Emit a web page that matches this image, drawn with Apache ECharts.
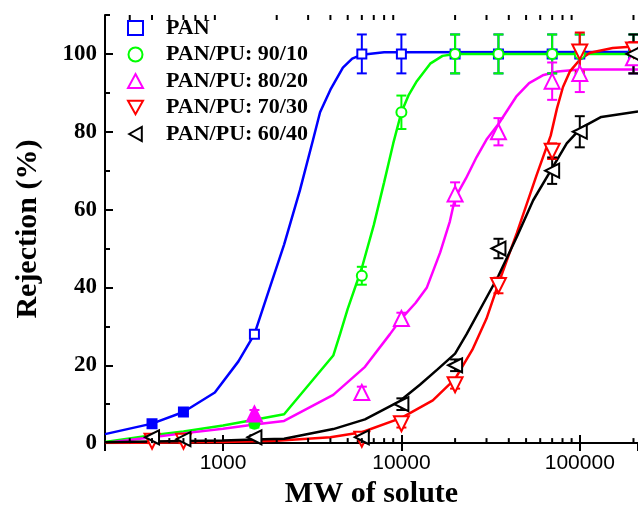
<!DOCTYPE html>
<html>

<head>
    <meta charset="utf-8">
    <script src="https://cdn.jsdelivr.net/npm/echarts@6/dist/echarts.min.js"></script>
</head>

<body style="margin:0">
    <div id="main" style="width:638px;height:514px;"></div>

    <script>
        // measured points (MW, rejection %, error)
        var panX = [400, 600, 1500, 6000, 10000, 20000, 35000, 70000, 100000, 200000];
        var panY = [5, 8, 28, 100, 100, 100, 100, 100, 100, 100];
        var panErr = [0.5, 0.5, 1, 5, 5, 5, 5, 5, 5, 5];

        var pu9010X = [1500, 6000, 10000, 20000, 35000, 70000, 100000, 200000];
        var pu9010Y = [5, 43, 85, 100, 100, 100, 100, 100];
        var pu9010Err = [1, 2.3, 4.3, 5, 5, 5, 5, 5];

        var pu8020X = [1500, 6000, 10000, 20000, 35000, 70000, 100000, 200000];
        var pu8020Y = [7.5, 13, 32, 64, 80, 93, 95, 99];
        var pu8020Err = [1, 1.5, 1.5, 3, 3.5, 4.8, 4.8, 4];

        var pu7030X = [400, 600, 6000, 10000, 20000, 35000, 70000, 100000, 200000];
        var pu7030Y = [0.5, 0.5, 1, 5, 15, 40.5, 75, 100.5, 101];
        var pu7030Err = [0.5, 0.5, 0.5, 1, 1, 2, 2, 5, 2];

        var pu6040X = [400, 600, 1500, 6000, 10000, 20000, 35000, 70000, 100000, 200000];
        var pu6040Y = [1.5, 1, 1.5, 1.5, 10, 20, 50, 70, 80, 100];
        var pu6040Err = [0.5, 0.5, 0.5, 1, 1.5, 1.5, 2.5, 3.4, 4, 5];

        // fitted curves
        var panFitX = [218, 400, 600, 900, 1220, 1500, 1800, 2200, 2700, 3200, 3500, 4000, 4700, 5300, 6000, 8000, 212000];
        var panFitY = [2.3, 5, 8, 13, 21, 28, 39, 51, 65, 78, 85, 90.8, 96.5, 98.8, 99.8, 100.4, 100.5];

        var pu9010FitX = [218, 400, 600, 1000, 1500, 2200, 4150, 4530, 5000, 6000, 7000, 8000, 9000, 10000, 11000, 12200, 14500, 17000, 20000, 212000];
        var pu9010FitY = [0.3, 2, 3, 4.5, 6, 7.4, 22.5, 28, 34.5, 45, 56, 67, 77, 85, 89.5, 93, 97.5, 99.5, 100, 100];

        var pu8020FitX = [218, 400, 600, 1000, 1500, 2200, 4150, 6250, 8630, 10000, 12000, 13900, 16500, 18700, 20000, 23000, 26400, 30000, 35000, 44000, 52000, 62000, 75000, 100000, 212000];
        var pu8020FitY = [0, 1.5, 2.5, 3.7, 4.8, 5.7, 12.4, 19.6, 28, 32, 36, 40, 49, 57, 63, 68, 73.5, 78, 82, 89, 92.5, 94.5, 95.5, 96, 96];

        var pu7030FitX = [218, 1000, 2000, 4000, 6000, 10000, 15000, 20000, 25000, 30000, 35000, 44400, 57400, 68700, 74500, 80500, 88000, 100000, 114000, 153000, 212000];
        var pu7030FitY = [0, 0.3, 0.6, 1.5, 2.8, 6.5, 11, 16.5, 24, 32, 41, 54, 69, 79, 86, 91.5, 95.5, 98.5, 100.3, 101.5, 102];

        var pu6040FitX = [218, 400, 1000, 1500, 2200, 4150, 6250, 9800, 12700, 16000, 20000, 23200, 35000, 44400, 54800, 68700, 84500, 101700, 132000, 212000];
        var pu6040FitY = [0.2, 0.4, 0.7, 0.9, 1.1, 3.6, 6.1, 10.8, 15, 19, 23, 28, 43, 53, 62.4, 70, 77, 81, 83.8, 85.2];

        var minorTicksX = [300, 400, 500, 600, 700, 800, 900, 2000, 3000, 4000, 5000, 6000, 7000, 8000, 9000,
            20000, 30000, 40000, 50000, 60000, 70000, 80000, 90000, 200000];

        var serif = "'Liberation Serif', 'Times New Roman', serif";

        var groups = [
            { name: 'PAN', x: panX, y: panY, err: panErr, fx: panFitX, fy: panFitY, color: '#0000ff', symbol: 'rect', size: 9, rotate: 0, filled: [0, 1], icon: 'rect' },
            { name: 'PAN/PU: 90/10', x: pu9010X, y: pu9010Y, err: pu9010Err, fx: pu9010FitX, fy: pu9010FitY, color: '#00ff00', symbol: 'circle', size: 10, rotate: 0, filled: [0], icon: 'circle' },
            { name: 'PAN/PU: 80/20', x: pu8020X, y: pu8020Y, err: pu8020Err, fx: pu8020FitX, fy: pu8020FitY, color: '#ff00ff', symbol: 'triangle', size: 15, rotate: 0, filled: [0], icon: 'triangle' },
            { name: 'PAN/PU: 70/30', x: pu7030X, y: pu7030Y, err: pu7030Err, fx: pu7030FitX, fy: pu7030FitY, color: '#ff0000', symbol: 'triangle', size: 15, rotate: 180, filled: [], icon: 'path://M0,0L10,0L5,9Z' },
            { name: 'PAN/PU: 60/40', x: pu6040X, y: pu6040Y, err: pu6040Err, fx: pu6040FitX, fy: pu6040FitY, color: '#000000', symbol: 'triangle', size: 14, rotate: 90, filled: [], icon: 'path://M0,5L9,0L9,10Z' }
        ];

        function errorBarItem(color) {
            return function (params, api) {
                var x = api.value(0), y = api.value(1), e = api.value(2);
                var lo = api.coord([x, y - e]);
                var hi = api.coord([x, y + e]);
                var w = 5;
                var st = { stroke: color, lineWidth: 2 };
                return {
                    type: 'group',
                    children: [
                        { type: 'line', shape: { x1: lo[0], y1: lo[1], x2: hi[0], y2: hi[1] }, style: st },
                        { type: 'line', shape: { x1: lo[0] - w, y1: lo[1], x2: lo[0] + w, y2: lo[1] }, style: st },
                        { type: 'line', shape: { x1: hi[0] - w, y1: hi[1], x2: hi[0] + w, y2: hi[1] }, style: st }
                    ]
                };
            };
        }

        var series = [];
        groups.forEach(function (g) {
            series.push({
                type: 'line',
                name: g.name + ' fit',
                data: g.fx.map(function (v, i) { return [v, g.fy[i]]; }),
                showSymbol: false,
                lineStyle: { color: g.color, width: 2.5 },
                silent: true,
                z: 2
            });
            series.push({
                type: 'custom',
                name: g.name + ' err',
                data: g.x.map(function (v, i) { return [v, g.y[i], g.err[i]]; }),
                renderItem: errorBarItem(g.color),
                silent: true,
                z: 3
            });
            series.push({
                type: 'scatter',
                name: g.name,
                symbol: g.symbol,
                symbolSize: g.size,
                symbolRotate: g.rotate,
                itemStyle: { color: '#fff', borderColor: g.color, borderWidth: 2, opacity: 1 },
                data: g.x.map(function (v, i) {
                    var d = { value: [v, g.y[i]] };
                    if (g.filled.indexOf(i) > -1) d.itemStyle = { color: g.color };
                    return d;
                }),
                z: 4
            });
        });

        // 2..9 minor ticks on the log axes (bottom and top)
        series.push({
            type: 'custom',
            name: 'minor ticks',
            data: minorTicksX.map(function (v) { return [v, 0]; }),
            renderItem: function (params, api) {
                var x = api.value(0);
                var b = api.coord([x, 0]);
                var t = api.coord([x, 110]);
                var st = { stroke: '#000', lineWidth: 2 };
                return {
                    type: 'group',
                    children: [
                        { type: 'line', shape: { x1: b[0], y1: b[1], x2: b[0], y2: b[1] - 5 }, style: st },
                        { type: 'line', shape: { x1: t[0], y1: t[1], x2: t[0], y2: t[1] + 5 }, style: st }
                    ]
                };
            },
            silent: true,
            z: 10
        });

        var myChart = echarts.init(document.getElementById('main'));
        var option = {
            animation: false,
            backgroundColor: '#fff',
            grid: { left: 105, right: 0, top: 15, bottom: 63 },
            legend: {
                data: groups.map(function (g) {
                    return {
                        name: g.name,
                        icon: g.icon,
                        itemStyle: { color: '#fff', borderColor: g.color, borderWidth: 2 }
                    };
                }),
                orient: 'vertical',
                left: 127,
                top: 17,
                padding: 0,
                itemGap: 4.5,
                itemWidth: 15,
                itemHeight: 14,
                textStyle: { fontFamily: serif, fontWeight: 'bold', fontSize: 22, color: '#000', padding: [0, 0, 0, 18] }
            },
            xAxis: [
                {
                    type: 'log',
                    min: 218,
                    max: 212000,
                    splitNumber: 3,
                    position: 'bottom',
                    name: 'MW of solute',
                    nameLocation: 'middle',
                    nameGap: 18,
                    nameTextStyle: { fontFamily: serif, fontWeight: 'bold', fontSize: 30, color: '#000' },
                    axisLine: { lineStyle: { color: '#000', width: 2 } },
                    axisTick: { inside: true, length: 8, lineStyle: { width: 2 } },
                    axisLabel: {
                        showMinLabel: false, showMaxLabel: false, margin: 10,
                        formatter: function (v) { return String(Math.round(v)); },
                        fontFamily: "'Liberation Sans', Arial, sans-serif", fontSize: 21, color: '#000'
                    },
                    splitLine: { show: false }
                },
                {
                    type: 'log',
                    min: 218,
                    max: 212000,
                    splitNumber: 3,
                    position: 'top',
                    axisLine: { lineStyle: { color: '#000', width: 2 } },
                    axisTick: { inside: true, length: 8, lineStyle: { width: 2 } },
                    axisLabel: { show: false },
                    splitLine: { show: false }
                }
            ],
            yAxis: [
                {
                    type: 'value',
                    min: 0,
                    max: 110,
                    interval: 20,
                    position: 'left',
                    name: 'Rejection (%)',
                    nameLocation: 'middle',
                    nameGap: 62,
                    nameTextStyle: { fontFamily: serif, fontWeight: 'bold', fontSize: 30, color: '#000' },
                    axisLine: { show: true, lineStyle: { color: '#000', width: 2 } },
                    axisTick: { show: true, inside: true, length: 8, lineStyle: { width: 2 } },
                    axisLabel: {
                        showMaxLabel: false, margin: 8,
                        fontFamily: serif, fontWeight: 'bold', fontSize: 23, color: '#000'
                    },
                    splitLine: { show: false }
                },
                {
                    type: 'value',
                    min: 0,
                    max: 110,
                    interval: 10,
                    position: 'left',
                    offset: 0,
                    axisLine: { show: false },
                    axisTick: { show: true, inside: true, length: 5, lineStyle: { width: 2, color: '#000' } },
                    axisLabel: { show: false },
                    splitLine: { show: false }
                }
            ],
            series: series
        };

        myChart.setOption(option);
    </script>
</body>

</html>
